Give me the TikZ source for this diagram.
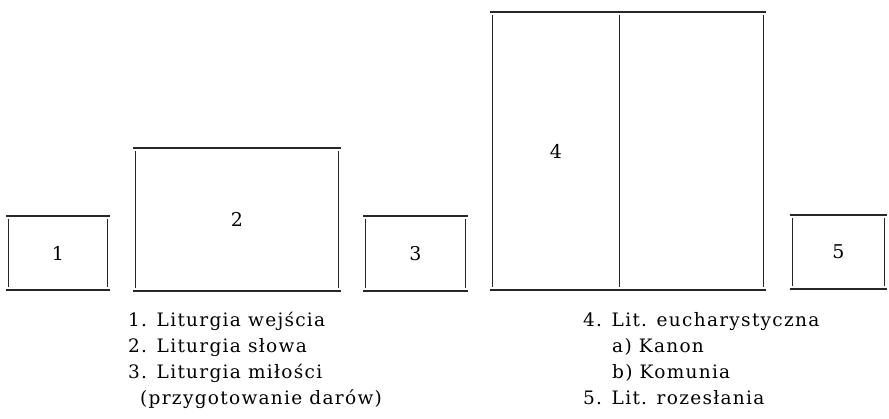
\documentclass[tikz,border=0pt]{standalone}
\usepackage{fontspec}
\usepackage{xcolor}
\usepackage{tikz}
\usetikzlibrary{positioning}
\newfontfamily\legfont[LetterSpace=7]{DejaVu Serif}
\newfontfamily\numfont{DejaVu Serif}
\tikzset{
  box/.style={inner sep=0pt, font=\numfont\fontsize{19}{20}\selectfont},
  rule/.style={line width=1.6pt, black!85},
  side/.style={line width=1pt, black!85},
  legend/.style={inner sep=0pt, align=left,
    font=\legfont\fontsize{18.5}{26}\selectfont}
}
\newcommand{\boxlines}[2]{%
  \draw[rule] ([xshift=-2.5pt]#1.north west) -- ([xshift=2.5pt]#2.north east);
  \draw[rule] ([xshift=-2.5pt]#1.south west) -- ([xshift=2.5pt]#2.south east);
  \draw[side] ([yshift=-3pt]#1.north west) -- ([yshift=3pt]#1.south west);
  \draw[side] ([yshift=-3pt]#2.north east) -- ([yshift=3pt]#2.south east);
}

\begin{document}
\begin{tikzpicture}[x=1pt, y=-1pt]
  \useasboundingbox[fill=white] (0,0) rectangle (889,419);
  \node[box, minimum width=98pt, minimum height=74pt] (b1) at (58,253) {1};
  \node[box, minimum width=202pt, minimum height=143pt] (b2) at (237,219.5) {2};
  \node[box, minimum width=99pt, minimum height=75pt] (b3) at (415.5,253.5) {3};
  \node[box, minimum width=126pt, minimum height=278pt] (b4a) at (556,151) {4};
  \node[box, minimum width=144pt, minimum height=278pt, right=0pt of b4a] (b4b) {};
  \node[box, minimum width=91pt, minimum height=74pt] (b5) at (838.5,252) {5};
  \boxlines{b1}{b1}
  \boxlines{b2}{b2}
  \boxlines{b3}{b3}
  \boxlines{b4a}{b4b}
  \boxlines{b5}{b5}
  \draw[side] ([yshift=-3pt]b4a.north east) -- ([yshift=3pt]b4a.south east);
  \node[legend, anchor=north west] (legL) at (128,312)
    {1. Liturgia wejścia\\
     2. Liturgia słowa\\
     3. Liturgia miłości\\
     \hspace*{12pt}(przygotowanie darów)};
  \node[legend, anchor=north west] (legR) at (583,312)
    {4. Lit. eucharystyczna\\
     \hspace*{29pt}a) Kanon\\
     \hspace*{29pt}b) Komunia\\
     5. Lit. rozesłania};
\end{tikzpicture}
\end{document}
